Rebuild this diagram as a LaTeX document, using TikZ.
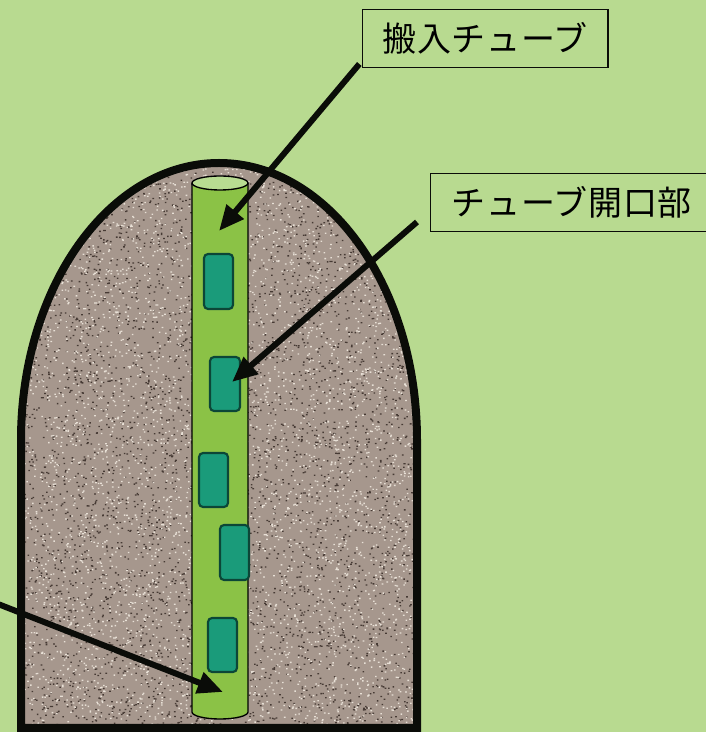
\documentclass[tikz,border=0pt]{standalone}
\usepackage{fontspec}
\usepackage{tikz}
\usetikzlibrary{arrows.meta,positioning,calc}
\newfontfamily\jp[LetterSpace=2]{Noto Sans CJK JP}
\definecolor{field}{RGB}{184,218,144}
\definecolor{soil}{RGB}{166,151,141}
\definecolor{soildark}{RGB}{70,58,52}
\definecolor{soillight}{RGB}{232,224,214}
\definecolor{tube}{RGB}{139,194,70}
\definecolor{tubetop}{RGB}{184,220,146}
\definecolor{port}{RGB}{26,155,122}
\definecolor{portedge}{RGB}{12,70,55}
\definecolor{ink}{RGB}{10,12,8}

\begin{document}
\begin{tikzpicture}[x=0.75pt, y=0.75pt,
  lbl/.style={draw=ink, line width=0.9pt, fill=field, font=\jp\fontsize{25.5pt}{28pt}\selectfont,
    minimum height=43.5pt, inner xsep=11pt, anchor=south west},
  arr/.style={-{Triangle[length=19pt, width=16pt]}, line width=4.5pt, ink},
  opening/.style={draw=portedge, line width=1.6pt, fill=port, rounded corners=3pt},
]
\fill[field] (0,0) rectangle (706,732);
\clip (0,0) rectangle (706,732);

% mound of soil
\path[fill=soil] (21,4) -- (21,292) arc[start angle=180, end angle=0, x radius=198, y radius=277] -- (417,4) -- cycle;
\begin{scope}
  \clip (21,4) -- (21,292) arc[start angle=180, end angle=0, x radius=198, y radius=277] -- (417,4) -- cycle;
  \pgfmathsetseed{7}
  \fill[soildark] \foreach \i in {1,...,4500} { ({21+396*rnd},{4+566*rnd}) rectangle ++(1.6,1.3) };
  \fill[soillight] \foreach \i in {1,...,4500} { ({21+396*rnd},{4+566*rnd}) rectangle ++(1.6,1.3) };
\end{scope}
\draw[ink, line width=6pt] (21,4) -- (21,292) arc[start angle=180, end angle=0, x radius=198, y radius=277] -- (417,4) -- cycle;

% tube with its openings
\draw[fill=tube, line width=1pt] (192,549) -- (192,20) arc[start angle=180, end angle=360, x radius=28, y radius=7] -- (248,549);
\draw[fill=tubetop, line width=1pt] (220,549) ellipse[x radius=28, y radius=7];
\draw[opening] (204,423) rectangle (233,478);
\draw[opening] (210,321) rectangle (240,375);
\draw[opening] (199,225) rectangle (228,279);
\draw[opening] (220,152) rectangle (249,207);
\draw[opening] (208,60) rectangle (237,114);

% labels
\node[lbl, minimum width=184pt] (inlet) at (362,664) {搬入チューブ};
\node[lbl, minimum width=212pt] (open) at (430,500) {チューブ開口部};

\coordinate (tip1) at (219,501);
\coordinate (tail2) at (417,510);
\coordinate (tip2) at (232,350);
\coordinate (tail3) at (-2,128);
\coordinate (tip3) at (223,40);

\draw[arr] ([xshift=-2pt,yshift=3pt]inlet.south west) -- (tip1);
\draw[arr] (tail2) -- (tip2);
\draw[arr] (tail3) -- (tip3);
\end{tikzpicture}
\end{document}
